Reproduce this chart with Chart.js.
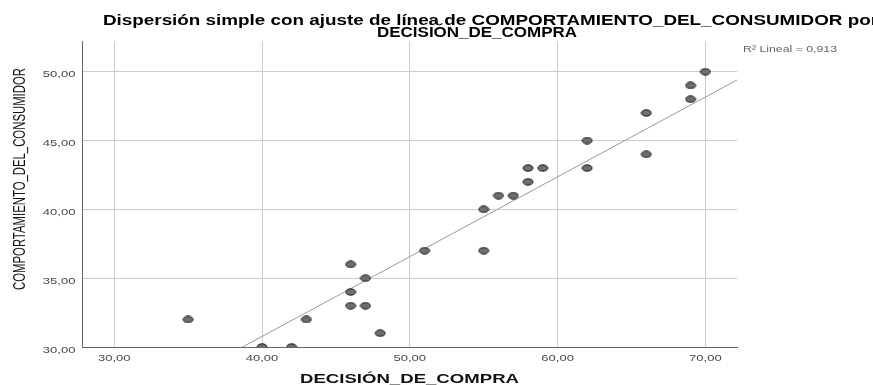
<!DOCTYPE html>
<html>
<head>
<meta charset="utf-8">
<script src="https://cdn.jsdelivr.net/npm/chart.js@4"></script>
<style>
  html, body { margin: 0; padding: 0; background: #fff; }
  #wrap { width: 873px; height: 385px; position: relative; }
</style>
</head>
<body>
<div id="wrap"><canvas id="grafico" width="873" height="385"></canvas></div>
<script>
// ===== DATOS =====
const decisionCompra = [35, 40, 42, 43, 46, 46, 46, 47, 47, 48, 51, 55, 55, 56, 57, 58, 58, 59, 62, 62, 66, 66, 69, 69, 70];
const comportamiento = [32, 30, 30, 32, 36, 34, 33, 35, 33, 31, 37, 40, 37, 41, 41, 42, 43, 43, 45, 43, 47, 44, 49, 48, 50];
const ajusteX = [38.68, 72.14];
const ajusteY = [30, 49.40];
const ticksX = [30, 40, 50, 60, 70];
const ticksY = [30, 35, 40, 45, 50];
const tituloLineas = ["Dispersión simple con ajuste de línea de COMPORTAMIENTO_DEL_CONSUMIDOR por", "DECISIÓN_DE_COMPRA"];
const tituloX = "DECISIÓN_DE_COMPRA";
const tituloY = "COMPORTAMIENTO_DEL_CONSUMIDOR";
const etiquetaR2 = "R² Lineal = 0,913";

const FUENTE = '"Liberation Sans", Arial, sans-serif';

function fmt(v) { return v.toFixed(2).replace('.', ','); }

// punto elíptico como en SPSS
function elipse() {
  const c = document.createElement('canvas');
  c.width = 12; c.height = 8;
  const g = c.getContext('2d');
  g.beginPath();
  g.ellipse(6, 4, 5, 3.2, 0, 0, Math.PI * 2);
  g.fillStyle = '#6e6e6e';
  g.fill();
  g.lineWidth = 1;
  g.strokeStyle = '#1e1e1e';
  g.stroke();
  return c;
}

// texto estirado (la imagen original está ensanchada en horizontal)
function texto(ctx, t, x, y, sx, align, sy) {
  ctx.save();
  ctx.translate(x, y);
  ctx.scale(sx, sy || 1);
  ctx.textAlign = align || 'left';
  ctx.fillText(t, 0, 0);
  ctx.restore();
}
function textoAncho(ctx, t, x, y, ancho, align, sy) {
  const w = ctx.measureText(t).width;
  texto(ctx, t, x, y, ancho / w, align, sy);
}

const puntos = decisionCompra.map((x, i) => ({ x: x, y: comportamiento[i] }));
const linea = ajusteX.map((x, i) => ({ x: x, y: ajusteY[i] }));

const textos = {
  id: 'textos',
  afterDraw(chart) {
    const ctx = chart.ctx;
    const a = chart.chartArea;
    const sx = chart.scales.x, sy = chart.scales.y;
    ctx.save();
    ctx.textBaseline = 'alphabetic';

    // titulo
    ctx.fillStyle = '#000';
    ctx.font = 'bold 14px ' + FUENTE;
    textoAncho(ctx, tituloLineas[0], 103, 24.5, 775, 'left');
    textoAncho(ctx, tituloLineas[1], 477, 37, 200, 'center');

    // ticks
    ctx.fillStyle = '#4a4a4a';
    ctx.font = '9px ' + FUENTE;
    ticksX.forEach(v => texto(ctx, fmt(v), sx.getPixelForValue(v), 360.5, 1.45, 'center'));
    ticksY.forEach(v => texto(ctx, fmt(v), a.left - 6.5, sy.getPixelForValue(v) + 5.5, 1.45, 'right'));

    // titulo eje X
    ctx.fillStyle = '#111';
    ctx.font = 'bold 13px ' + FUENTE;
    textoAncho(ctx, tituloX, (a.left + a.right) / 2, 382.5, 219, 'center');

    // titulo eje Y
    ctx.save();
    ctx.translate(24.5, 179);
    ctx.rotate(-Math.PI / 2);
    ctx.font = '15px ' + FUENTE;
    textoAncho(ctx, tituloY, 0, 0, 222, 'center', 1.12);
    ctx.restore();

    // R2
    ctx.fillStyle = '#666';
    ctx.font = '9px ' + FUENTE;
    textoAncho(ctx, etiquetaR2, a.right + 6, 51.5, 94, 'left');
    ctx.restore();
  }
};

new Chart(document.getElementById('grafico'), {
  type: 'scatter',
  data: {
    datasets: [
      {
        label: 'ajuste',
        type: 'line',
        data: linea,
        borderColor: '#9a9a9a',
        borderWidth: 1,
        pointRadius: 0,
        fill: false,
        order: 2
      },
      {
        label: 'observados',
        data: puntos,
        pointStyle: elipse(),
        order: 1
      }
    ]
  },
  options: {
    responsive: false,
    animation: false,
    devicePixelRatio: 1,
    layout: { padding: { top: 41, right: 136, left: 0, bottom: 0 } },
    plugins: {
      legend: { display: false },
      tooltip: { enabled: false }
    },
    scales: {
      x: {
        type: 'linear',
        min: 27.82,
        max: 72.14,
        afterBuildTicks: s => { s.ticks = ticksX.map(v => ({ value: v })); },
        afterFit: s => { s.height = 38; },
        grid: { color: '#cccccc', lineWidth: 1, drawTicks: false },
        border: { color: '#666', width: 1 },
        ticks: { display: false }
      },
      y: {
        type: 'linear',
        min: 30,
        max: 52.23,
        afterBuildTicks: s => { s.ticks = ticksY.map(v => ({ value: v })); },
        afterFit: s => { s.width = 82; },
        grid: { color: '#cccccc', lineWidth: 1, drawTicks: false },
        border: { color: '#666', width: 1 },
        ticks: { display: false }
      }
    }
  },
  plugins: [textos]
});
</script>
</body>
</html>
